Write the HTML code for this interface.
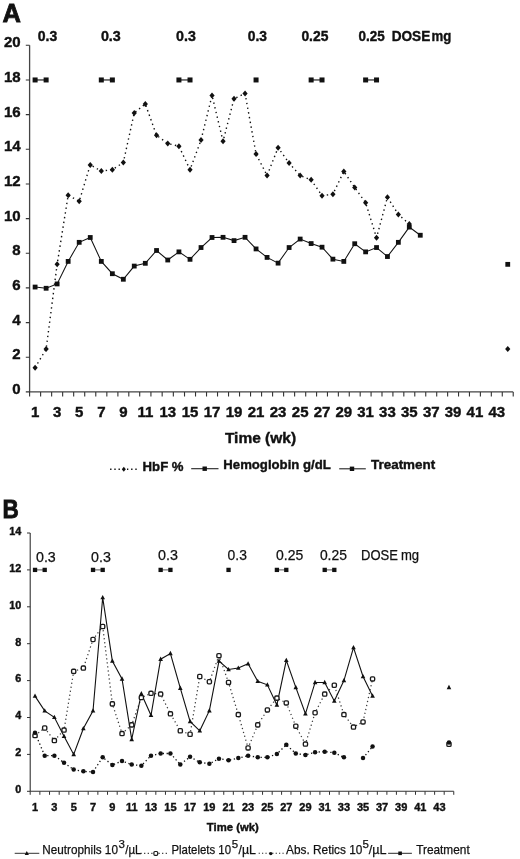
<!DOCTYPE html><html><head><meta charset="utf-8"><style>html,body{margin:0;padding:0;background:#fff;}svg{display:block;filter:blur(0.4px);}text{font-family:"Liberation Sans",sans-serif;}</style></head><body>
<svg width="520" height="859" viewBox="0 0 520 859">
<rect width="520" height="859" fill="#fff"/>
<text x="2.4" y="21.7" font-size="25.5" font-weight="bold" stroke="#111" stroke-width="0.8" fill="#111">A</text>
<path d="M29.6 45.3V391.9H513.22" fill="none" stroke="#444" stroke-width="1.3"/>
<text x="20.6" y="394" font-size="15" font-weight="bold" stroke="#111" stroke-width="0.4" text-anchor="end" fill="#111">0</text>
<text x="20.6" y="359.34" font-size="15" font-weight="bold" stroke="#111" stroke-width="0.4" text-anchor="end" fill="#111">2</text>
<text x="20.6" y="324.68" font-size="15" font-weight="bold" stroke="#111" stroke-width="0.4" text-anchor="end" fill="#111">4</text>
<text x="20.6" y="290.02" font-size="15" font-weight="bold" stroke="#111" stroke-width="0.4" text-anchor="end" fill="#111">6</text>
<text x="20.6" y="255.36" font-size="15" font-weight="bold" stroke="#111" stroke-width="0.4" text-anchor="end" fill="#111">8</text>
<text x="20.6" y="220.7" font-size="15" font-weight="bold" stroke="#111" stroke-width="0.4" text-anchor="end" fill="#111">10</text>
<text x="20.6" y="186.04" font-size="15" font-weight="bold" stroke="#111" stroke-width="0.4" text-anchor="end" fill="#111">12</text>
<text x="20.6" y="151.38" font-size="15" font-weight="bold" stroke="#111" stroke-width="0.4" text-anchor="end" fill="#111">14</text>
<text x="20.6" y="116.72" font-size="15" font-weight="bold" stroke="#111" stroke-width="0.4" text-anchor="end" fill="#111">16</text>
<text x="20.6" y="82.06" font-size="15" font-weight="bold" stroke="#111" stroke-width="0.4" text-anchor="end" fill="#111">18</text>
<text x="20.6" y="47.4" font-size="15" font-weight="bold" stroke="#111" stroke-width="0.4" text-anchor="end" fill="#111">20</text>
<path d="M25.8 391.9H29.6M25.8 357.24H29.6M25.8 322.58H29.6M25.8 287.92H29.6M25.8 253.26H29.6M25.8 218.6H29.6M25.8 183.94H29.6M25.8 149.28H29.6M25.8 114.62H29.6M25.8 79.96H29.6M25.8 45.3H29.6M29.6 391.9V396.4M40.62 391.9V396.4M51.64 391.9V396.4M62.65 391.9V396.4M73.67 391.9V396.4M84.72 391.9V396.4M95.78 391.9V396.4M106.84 391.9V396.4M117.89 391.9V396.4M128.8 391.9V396.4M139.7 391.9V396.4M150.93 391.9V396.4M162.16 391.9V396.4M173.34 391.9V396.4M184.52 391.9V396.4M195.53 391.9V396.4M206.53 391.9V396.4M217.53 391.9V396.4M228.54 391.9V396.4M239.54 391.9V396.4M250.55 391.9V396.4M261.57 391.9V396.4M272.59 391.9V396.4M283.6 391.9V396.4M294.62 391.9V396.4M305.7 391.9V396.4M316.58 391.9V396.4M327.46 391.9V396.4M338.37 391.9V396.4M349.27 391.9V396.4M360.18 391.9V396.4M371.08 391.9V396.4M381.99 391.9V396.4M392.91 391.9V396.4M403.82 391.9V396.4M414.78 391.9V396.4M425.75 391.9V396.4M436.71 391.9V396.4M447.63 391.9V396.4M458.55 391.9V396.4M469.46 391.9V396.4M480.38 391.9V396.4M491.33 391.9V396.4M502.27 391.9V396.4M513.22 391.9V396.4" stroke="#333" stroke-width="1.1" fill="none"/>
<text x="35.11" y="416.5" font-size="15" font-weight="bold" stroke="#111" stroke-width="0.4" text-anchor="middle" fill="#111">1</text>
<text x="57.14" y="416.5" font-size="15" font-weight="bold" stroke="#111" stroke-width="0.4" text-anchor="middle" fill="#111">3</text>
<text x="79.2" y="416.5" font-size="15" font-weight="bold" stroke="#111" stroke-width="0.4" text-anchor="middle" fill="#111">5</text>
<text x="101.31" y="416.5" font-size="15" font-weight="bold" stroke="#111" stroke-width="0.4" text-anchor="middle" fill="#111">7</text>
<text x="123.34" y="416.5" font-size="15" font-weight="bold" stroke="#111" stroke-width="0.4" text-anchor="middle" fill="#111">9</text>
<text x="145.31" y="416.5" font-size="15" font-weight="bold" stroke="#111" stroke-width="0.4" text-anchor="middle" fill="#111">11</text>
<text x="167.75" y="416.5" font-size="15" font-weight="bold" stroke="#111" stroke-width="0.4" text-anchor="middle" fill="#111">13</text>
<text x="190.02" y="416.5" font-size="15" font-weight="bold" stroke="#111" stroke-width="0.4" text-anchor="middle" fill="#111">15</text>
<text x="212.03" y="416.5" font-size="15" font-weight="bold" stroke="#111" stroke-width="0.4" text-anchor="middle" fill="#111">17</text>
<text x="234.04" y="416.5" font-size="15" font-weight="bold" stroke="#111" stroke-width="0.4" text-anchor="middle" fill="#111">19</text>
<text x="256.06" y="416.5" font-size="15" font-weight="bold" stroke="#111" stroke-width="0.4" text-anchor="middle" fill="#111">21</text>
<text x="278.09" y="416.5" font-size="15" font-weight="bold" stroke="#111" stroke-width="0.4" text-anchor="middle" fill="#111">23</text>
<text x="300.16" y="416.5" font-size="15" font-weight="bold" stroke="#111" stroke-width="0.4" text-anchor="middle" fill="#111">25</text>
<text x="322.02" y="416.5" font-size="15" font-weight="bold" stroke="#111" stroke-width="0.4" text-anchor="middle" fill="#111">27</text>
<text x="343.82" y="416.5" font-size="15" font-weight="bold" stroke="#111" stroke-width="0.4" text-anchor="middle" fill="#111">29</text>
<text x="365.63" y="416.5" font-size="15" font-weight="bold" stroke="#111" stroke-width="0.4" text-anchor="middle" fill="#111">31</text>
<text x="387.45" y="416.5" font-size="15" font-weight="bold" stroke="#111" stroke-width="0.4" text-anchor="middle" fill="#111">33</text>
<text x="409.3" y="416.5" font-size="15" font-weight="bold" stroke="#111" stroke-width="0.4" text-anchor="middle" fill="#111">35</text>
<text x="431.23" y="416.5" font-size="15" font-weight="bold" stroke="#111" stroke-width="0.4" text-anchor="middle" fill="#111">37</text>
<text x="453.09" y="416.5" font-size="15" font-weight="bold" stroke="#111" stroke-width="0.4" text-anchor="middle" fill="#111">39</text>
<text x="474.92" y="416.5" font-size="15" font-weight="bold" stroke="#111" stroke-width="0.4" text-anchor="middle" fill="#111">41</text>
<text x="496.8" y="416.5" font-size="15" font-weight="bold" stroke="#111" stroke-width="0.4" text-anchor="middle" fill="#111">43</text>
<text x="260.5" y="442.7" font-size="15.5" font-weight="bold" stroke="#111" stroke-width="0.4" text-anchor="middle" fill="#111">Time (wk)</text>
<text x="37.7" y="40.9" font-size="15" font-weight="bold" stroke="#111" stroke-width="0.4" textLength="19.5" lengthAdjust="spacingAndGlyphs" fill="#111">0.3</text>
<text x="100.9" y="40.9" font-size="15" font-weight="bold" stroke="#111" stroke-width="0.4" textLength="19.9" lengthAdjust="spacingAndGlyphs" fill="#111">0.3</text>
<text x="176.1" y="40.9" font-size="15" font-weight="bold" stroke="#111" stroke-width="0.4" textLength="19.8" lengthAdjust="spacingAndGlyphs" fill="#111">0.3</text>
<text x="247.7" y="40.9" font-size="15" font-weight="bold" stroke="#111" stroke-width="0.4" textLength="19.3" lengthAdjust="spacingAndGlyphs" fill="#111">0.3</text>
<text x="301.4" y="40.9" font-size="15" font-weight="bold" stroke="#111" stroke-width="0.4" textLength="27" lengthAdjust="spacingAndGlyphs" fill="#111">0.25</text>
<text x="358.6" y="40.9" font-size="15" font-weight="bold" stroke="#111" stroke-width="0.4" textLength="26.2" lengthAdjust="spacingAndGlyphs" fill="#111">0.25</text>
<text x="391.7" y="40.6" font-size="15" font-weight="bold" stroke="#111" stroke-width="0.4" textLength="38.6" lengthAdjust="spacingAndGlyphs" fill="#111">DOSE</text>
<text x="431.4" y="40.6" font-size="15" font-weight="bold" stroke="#111" stroke-width="0.4" textLength="19.8" lengthAdjust="spacingAndGlyphs" fill="#111">mg</text>
<path d="M35.11 367.64L46.13 349.09L57.14 264.35L68.16 195.2L79.2 201.27L90.25 164.88L101.31 171.12L112.36 169.73L123.34 162.45L134.25 112.89L145.31 104.05L156.55 135.24L167.75 143.56L178.93 146.16L190.02 169.73L201.03 140.1L212.03 95.38L223.04 141.31L234.04 98.68L245.05 93.48L256.06 153.96L267.08 175.53L278.09 147.63L289.11 163.06L300.16 175.53L311.14 179.87L322.02 195.64L332.91 194.25L343.82 171.38L354.72 187.49L365.63 202.74L376.54 237.75L387.45 197.2L398.36 214.53L409.3 224.06" fill="none" stroke="#111" stroke-width="1.4" stroke-dasharray="1.4 3.4"/>
<path d="M35.11 287.05L46.13 288.27L57.14 283.93L68.16 261.41L79.2 242.34L90.25 237.49L101.31 261.41L112.36 273.71L123.34 279.25L134.25 266.08L145.31 263.31L156.55 250.49L167.75 260.02L178.93 251.87L190.02 259.33L201.03 247.54L212.03 237.49L223.04 237.32L234.04 240.61L245.05 237.32L256.06 248.93L267.08 257.42L278.09 263.14L289.11 247.54L300.16 239.05L311.14 243.56L322.02 247.19L332.91 259.15L343.82 261.41L354.72 243.73L365.63 251.87L376.54 247.54L387.45 256.55L398.36 242.34L409.3 227.09L420.27 235.24" fill="none" stroke="#111" stroke-width="1.05"/>
<path d="M35.11 79.96H46.13" stroke="#111" stroke-width="1.1"/>
<path d="M101.31 79.96H112.36" stroke="#111" stroke-width="1.1"/>
<path d="M178.93 79.96H190.02" stroke="#111" stroke-width="1.1"/>
<path d="M311.14 79.96H322.02" stroke="#111" stroke-width="1.1"/>
<path d="M365.63 79.96H376.54" stroke="#111" stroke-width="1.1"/>
<rect x="32.61" y="77.46" width="5" height="5" fill="#111"/>
<rect x="43.63" y="77.46" width="5" height="5" fill="#111"/>
<rect x="98.81" y="77.46" width="5" height="5" fill="#111"/>
<rect x="109.86" y="77.46" width="5" height="5" fill="#111"/>
<rect x="176.43" y="77.46" width="5" height="5" fill="#111"/>
<rect x="187.52" y="77.46" width="5" height="5" fill="#111"/>
<rect x="253.56" y="77.46" width="5" height="5" fill="#111"/>
<rect x="308.64" y="77.46" width="5" height="5" fill="#111"/>
<rect x="319.52" y="77.46" width="5" height="5" fill="#111"/>
<rect x="363.13" y="77.46" width="5" height="5" fill="#111"/>
<rect x="374.04" y="77.46" width="5" height="5" fill="#111"/>
<rect x="32.71" y="284.65" width="4.8" height="4.8" fill="#111"/>
<rect x="43.73" y="285.87" width="4.8" height="4.8" fill="#111"/>
<rect x="54.74" y="281.53" width="4.8" height="4.8" fill="#111"/>
<rect x="65.76" y="259.01" width="4.8" height="4.8" fill="#111"/>
<rect x="76.8" y="239.94" width="4.8" height="4.8" fill="#111"/>
<rect x="87.85" y="235.09" width="4.8" height="4.8" fill="#111"/>
<rect x="98.91" y="259.01" width="4.8" height="4.8" fill="#111"/>
<rect x="109.96" y="271.31" width="4.8" height="4.8" fill="#111"/>
<rect x="120.94" y="276.86" width="4.8" height="4.8" fill="#111"/>
<rect x="131.85" y="263.68" width="4.8" height="4.8" fill="#111"/>
<rect x="142.91" y="260.91" width="4.8" height="4.8" fill="#111"/>
<rect x="154.15" y="248.09" width="4.8" height="4.8" fill="#111"/>
<rect x="165.35" y="257.62" width="4.8" height="4.8" fill="#111"/>
<rect x="176.53" y="249.47" width="4.8" height="4.8" fill="#111"/>
<rect x="187.62" y="256.93" width="4.8" height="4.8" fill="#111"/>
<rect x="198.63" y="245.14" width="4.8" height="4.8" fill="#111"/>
<rect x="209.63" y="235.09" width="4.8" height="4.8" fill="#111"/>
<rect x="220.64" y="234.92" width="4.8" height="4.8" fill="#111"/>
<rect x="231.64" y="238.21" width="4.8" height="4.8" fill="#111"/>
<rect x="242.65" y="234.92" width="4.8" height="4.8" fill="#111"/>
<rect x="253.66" y="246.53" width="4.8" height="4.8" fill="#111"/>
<rect x="264.68" y="255.02" width="4.8" height="4.8" fill="#111"/>
<rect x="275.69" y="260.74" width="4.8" height="4.8" fill="#111"/>
<rect x="286.71" y="245.14" width="4.8" height="4.8" fill="#111"/>
<rect x="297.76" y="236.65" width="4.8" height="4.8" fill="#111"/>
<rect x="308.74" y="241.16" width="4.8" height="4.8" fill="#111"/>
<rect x="319.62" y="244.79" width="4.8" height="4.8" fill="#111"/>
<rect x="330.51" y="256.75" width="4.8" height="4.8" fill="#111"/>
<rect x="341.42" y="259.01" width="4.8" height="4.8" fill="#111"/>
<rect x="352.32" y="241.33" width="4.8" height="4.8" fill="#111"/>
<rect x="363.23" y="249.47" width="4.8" height="4.8" fill="#111"/>
<rect x="374.14" y="245.14" width="4.8" height="4.8" fill="#111"/>
<rect x="385.05" y="254.15" width="4.8" height="4.8" fill="#111"/>
<rect x="395.96" y="239.94" width="4.8" height="4.8" fill="#111"/>
<rect x="406.9" y="224.69" width="4.8" height="4.8" fill="#111"/>
<rect x="417.87" y="232.84" width="4.8" height="4.8" fill="#111"/>
<rect x="505.35" y="261.95" width="4.8" height="4.8" fill="#111"/>
<path d="M35.11 364.64L37.71 367.64L35.11 370.64L32.51 367.64Z" fill="#111"/>
<path d="M46.13 346.09L48.73 349.09L46.13 352.09L43.53 349.09Z" fill="#111"/>
<path d="M57.14 261.35L59.74 264.35L57.14 267.35L54.54 264.35Z" fill="#111"/>
<path d="M68.16 192.2L70.76 195.2L68.16 198.2L65.56 195.2Z" fill="#111"/>
<path d="M79.2 198.27L81.8 201.27L79.2 204.27L76.6 201.27Z" fill="#111"/>
<path d="M90.25 161.88L92.85 164.88L90.25 167.88L87.65 164.88Z" fill="#111"/>
<path d="M101.31 168.12L103.91 171.12L101.31 174.12L98.71 171.12Z" fill="#111"/>
<path d="M112.36 166.73L114.96 169.73L112.36 172.73L109.76 169.73Z" fill="#111"/>
<path d="M123.34 159.45L125.94 162.45L123.34 165.45L120.74 162.45Z" fill="#111"/>
<path d="M134.25 109.89L136.85 112.89L134.25 115.89L131.65 112.89Z" fill="#111"/>
<path d="M145.31 101.05L147.91 104.05L145.31 107.05L142.72 104.05Z" fill="#111"/>
<path d="M156.55 132.24L159.15 135.24L156.55 138.24L153.95 135.24Z" fill="#111"/>
<path d="M167.75 140.56L170.35 143.56L167.75 146.56L165.15 143.56Z" fill="#111"/>
<path d="M178.93 143.16L181.53 146.16L178.93 149.16L176.33 146.16Z" fill="#111"/>
<path d="M190.02 166.73L192.62 169.73L190.02 172.73L187.42 169.73Z" fill="#111"/>
<path d="M201.03 137.1L203.63 140.1L201.03 143.1L198.43 140.1Z" fill="#111"/>
<path d="M212.03 92.38L214.63 95.38L212.03 98.38L209.43 95.38Z" fill="#111"/>
<path d="M223.04 138.31L225.64 141.31L223.04 144.31L220.44 141.31Z" fill="#111"/>
<path d="M234.04 95.68L236.64 98.68L234.04 101.68L231.44 98.68Z" fill="#111"/>
<path d="M245.05 90.48L247.65 93.48L245.05 96.48L242.45 93.48Z" fill="#111"/>
<path d="M256.06 150.96L258.66 153.96L256.06 156.96L253.46 153.96Z" fill="#111"/>
<path d="M267.08 172.53L269.68 175.53L267.08 178.53L264.48 175.53Z" fill="#111"/>
<path d="M278.09 144.63L280.69 147.63L278.09 150.63L275.49 147.63Z" fill="#111"/>
<path d="M289.11 160.06L291.71 163.06L289.11 166.06L286.51 163.06Z" fill="#111"/>
<path d="M300.16 172.53L302.76 175.53L300.16 178.53L297.56 175.53Z" fill="#111"/>
<path d="M311.14 176.87L313.74 179.87L311.14 182.87L308.54 179.87Z" fill="#111"/>
<path d="M322.02 192.64L324.62 195.64L322.02 198.64L319.42 195.64Z" fill="#111"/>
<path d="M332.91 191.25L335.51 194.25L332.91 197.25L330.31 194.25Z" fill="#111"/>
<path d="M343.82 168.38L346.42 171.38L343.82 174.38L341.22 171.38Z" fill="#111"/>
<path d="M354.72 184.49L357.32 187.49L354.72 190.49L352.12 187.49Z" fill="#111"/>
<path d="M365.63 199.74L368.23 202.74L365.63 205.74L363.03 202.74Z" fill="#111"/>
<path d="M376.54 234.75L379.14 237.75L376.54 240.75L373.94 237.75Z" fill="#111"/>
<path d="M387.45 194.2L390.05 197.2L387.45 200.2L384.85 197.2Z" fill="#111"/>
<path d="M398.36 211.53L400.96 214.53L398.36 217.53L395.76 214.53Z" fill="#111"/>
<path d="M409.3 221.06L411.9 224.06L409.3 227.06L406.7 224.06Z" fill="#111"/>
<path d="M507.75 345.92L510.35 348.92L507.75 351.92L505.15 348.92Z" fill="#111"/>
<path d="M110.1 469.3H137.5" stroke="#111" stroke-width="1.4" stroke-dasharray="1.4 2.8"/>
<rect x="121" y="466" width="6" height="6.5" fill="#fff"/>
<path d="M123.8 466.7L125.8 469.2L123.8 471.7L121.8 469.2Z" fill="#111"/>
<text x="142.6" y="470.6" font-size="13.3" font-weight="bold" stroke="#111" stroke-width="0.4" textLength="41" lengthAdjust="spacingAndGlyphs" fill="#111">HbF %</text>
<path d="M191.2 468.7H218.5" stroke="#222" stroke-width="1.1"/>
<rect x="202.5" y="466.5" width="4.4" height="4.4" fill="#111"/>
<text x="223.3" y="469.4" font-size="13.3" font-weight="bold" stroke="#111" stroke-width="0.4" textLength="107.5" lengthAdjust="spacingAndGlyphs" fill="#111">Hemoglobin g/dL</text>
<path d="M339.2 468.8H365.8" stroke="#222" stroke-width="1.1"/>
<rect x="349.8" y="466.6" width="4.4" height="4.4" fill="#111"/>
<text x="371" y="469.4" font-size="13.3" font-weight="bold" stroke="#111" stroke-width="0.4" textLength="64.2" lengthAdjust="spacingAndGlyphs" fill="#111">Treatment</text>
<text x="2.4" y="517.8" font-size="25.5" font-weight="bold" stroke="#111" stroke-width="0.8" textLength="16.3" lengthAdjust="spacingAndGlyphs" fill="#111">B</text>
<path d="M30.2 533V791.3H453.76" fill="none" stroke="#333" stroke-width="1.1"/>
<text x="21.3" y="793.1" font-size="10.8" font-weight="bold" stroke="#111" stroke-width="0.4" text-anchor="end" fill="#111">0</text>
<text x="21.3" y="756.2" font-size="10.8" font-weight="bold" stroke="#111" stroke-width="0.4" text-anchor="end" fill="#111">2</text>
<text x="21.3" y="719.3" font-size="10.8" font-weight="bold" stroke="#111" stroke-width="0.4" text-anchor="end" fill="#111">4</text>
<text x="21.3" y="682.4" font-size="10.8" font-weight="bold" stroke="#111" stroke-width="0.4" text-anchor="end" fill="#111">6</text>
<text x="21.3" y="645.5" font-size="10.8" font-weight="bold" stroke="#111" stroke-width="0.4" text-anchor="end" fill="#111">8</text>
<text x="21.3" y="608.6" font-size="10.8" font-weight="bold" stroke="#111" stroke-width="0.4" text-anchor="end" fill="#111">10</text>
<text x="21.3" y="571.7" font-size="10.8" font-weight="bold" stroke="#111" stroke-width="0.4" text-anchor="end" fill="#111">12</text>
<text x="21.3" y="534.8" font-size="10.8" font-weight="bold" stroke="#111" stroke-width="0.4" text-anchor="end" fill="#111">14</text>
<path d="M27 791.3H30.2M27 754.4H30.2M27 717.5H30.2M27 680.6H30.2M27 643.7H30.2M27 606.8H30.2M27 569.9H30.2M27 533H30.2M30.2 791.3V794.8M39.87 791.3V794.8M49.53 791.3V794.8M59.2 791.3V794.8M68.86 791.3V794.8M78.53 791.3V794.8M88.19 791.3V794.8M97.86 791.3V794.8M107.52 791.3V794.8M117.19 791.3V794.8M126.87 791.3V794.8M136.54 791.3V794.8M146.18 791.3V794.8M155.82 791.3V794.8M165.46 791.3V794.8M175.4 791.3V794.8M185.19 791.3V794.8M194.98 791.3V794.8M204.57 791.3V794.8M214.16 791.3V794.8M223.75 791.3V794.8M233.34 791.3V794.8M243.28 791.3V794.8M252.92 791.3V794.8M262.56 791.3V794.8M272.2 791.3V794.8M281.59 791.3V794.8M290.98 791.3V794.8M300.62 791.3V794.8M310.26 791.3V794.8M319.9 791.3V794.8M329.51 791.3V794.8M339.11 791.3V794.8M348.72 791.3V794.8M358.26 791.3V794.8M367.8 791.3V794.8M377.34 791.3V794.8M386.88 791.3V794.8M396.42 791.3V794.8M405.96 791.3V794.8M415.5 791.3V794.8M425.04 791.3V794.8M434.61 791.3V794.8M444.19 791.3V794.8M453.76 791.3V794.8" stroke="#333" stroke-width="1" fill="none"/>
<text x="35.03" y="810.6" font-size="11" font-weight="bold" stroke="#111" stroke-width="0.4" text-anchor="middle" fill="#111">1</text>
<text x="54.36" y="810.6" font-size="11" font-weight="bold" stroke="#111" stroke-width="0.4" text-anchor="middle" fill="#111">3</text>
<text x="73.69" y="810.6" font-size="11" font-weight="bold" stroke="#111" stroke-width="0.4" text-anchor="middle" fill="#111">5</text>
<text x="93.02" y="810.6" font-size="11" font-weight="bold" stroke="#111" stroke-width="0.4" text-anchor="middle" fill="#111">7</text>
<text x="112.36" y="810.6" font-size="11" font-weight="bold" stroke="#111" stroke-width="0.4" text-anchor="middle" fill="#111">9</text>
<text x="131.7" y="810.6" font-size="11" font-weight="bold" stroke="#111" stroke-width="0.4" text-anchor="middle" fill="#111">11</text>
<text x="151" y="810.6" font-size="11" font-weight="bold" stroke="#111" stroke-width="0.4" text-anchor="middle" fill="#111">13</text>
<text x="170.43" y="810.6" font-size="11" font-weight="bold" stroke="#111" stroke-width="0.4" text-anchor="middle" fill="#111">15</text>
<text x="190.08" y="810.6" font-size="11" font-weight="bold" stroke="#111" stroke-width="0.4" text-anchor="middle" fill="#111">17</text>
<text x="209.37" y="810.6" font-size="11" font-weight="bold" stroke="#111" stroke-width="0.4" text-anchor="middle" fill="#111">19</text>
<text x="228.54" y="810.6" font-size="11" font-weight="bold" stroke="#111" stroke-width="0.4" text-anchor="middle" fill="#111">21</text>
<text x="248.1" y="810.6" font-size="11" font-weight="bold" stroke="#111" stroke-width="0.4" text-anchor="middle" fill="#111">23</text>
<text x="267.38" y="810.6" font-size="11" font-weight="bold" stroke="#111" stroke-width="0.4" text-anchor="middle" fill="#111">25</text>
<text x="286.29" y="810.6" font-size="11" font-weight="bold" stroke="#111" stroke-width="0.4" text-anchor="middle" fill="#111">27</text>
<text x="305.44" y="810.6" font-size="11" font-weight="bold" stroke="#111" stroke-width="0.4" text-anchor="middle" fill="#111">29</text>
<text x="324.7" y="810.6" font-size="11" font-weight="bold" stroke="#111" stroke-width="0.4" text-anchor="middle" fill="#111">31</text>
<text x="343.92" y="810.6" font-size="11" font-weight="bold" stroke="#111" stroke-width="0.4" text-anchor="middle" fill="#111">33</text>
<text x="363.03" y="810.6" font-size="11" font-weight="bold" stroke="#111" stroke-width="0.4" text-anchor="middle" fill="#111">35</text>
<text x="382.11" y="810.6" font-size="11" font-weight="bold" stroke="#111" stroke-width="0.4" text-anchor="middle" fill="#111">37</text>
<text x="401.19" y="810.6" font-size="11" font-weight="bold" stroke="#111" stroke-width="0.4" text-anchor="middle" fill="#111">39</text>
<text x="420.27" y="810.6" font-size="11" font-weight="bold" stroke="#111" stroke-width="0.4" text-anchor="middle" fill="#111">41</text>
<text x="439.4" y="810.6" font-size="11" font-weight="bold" stroke="#111" stroke-width="0.4" text-anchor="middle" fill="#111">43</text>
<text x="232.8" y="830.8" font-size="11.3" font-weight="bold" stroke="#111" stroke-width="0.4" text-anchor="middle" fill="#111">Time (wk)</text>
<text x="36" y="562.3" font-size="14" stroke="#111" stroke-width="0.25" textLength="19.8" lengthAdjust="spacingAndGlyphs" fill="#111">0.3</text>
<text x="91.1" y="562.2" font-size="14" stroke="#111" stroke-width="0.25" textLength="19.8" lengthAdjust="spacingAndGlyphs" fill="#111">0.3</text>
<text x="158" y="560.3" font-size="14" stroke="#111" stroke-width="0.25" textLength="19.9" lengthAdjust="spacingAndGlyphs" fill="#111">0.3</text>
<text x="227.6" y="560.1" font-size="14" stroke="#111" stroke-width="0.25" textLength="19.3" lengthAdjust="spacingAndGlyphs" fill="#111">0.3</text>
<text x="276" y="560.1" font-size="14" stroke="#111" stroke-width="0.25" textLength="27.2" lengthAdjust="spacingAndGlyphs" fill="#111">0.25</text>
<text x="319.9" y="560.1" font-size="14" stroke="#111" stroke-width="0.25" textLength="27" lengthAdjust="spacingAndGlyphs" fill="#111">0.25</text>
<text x="361" y="559.8" font-size="14" stroke="#111" stroke-width="0.25" textLength="36.9" lengthAdjust="spacingAndGlyphs" fill="#111">DOSE</text>
<text x="400.9" y="559.8" font-size="14" stroke="#111" stroke-width="0.25" textLength="18.2" lengthAdjust="spacingAndGlyphs" fill="#111">mg</text>
<path d="M35.03 735.58L44.7 728.02L54.36 740.56L64.03 730.05L73.69 671.38L83.36 668.05L93.02 639.46L102.69 626.54L112.36 703.85L122.03 733.55L131.7 724.88L141.36 697.57L151 693.33L160.64 694.07L170.43 713.81L180.3 730.78L190.08 734.29L199.77 676.54L209.37 681.71L218.96 655.69L228.54 682.44L238.31 714.55L248.1 747.94L257.74 724.88L267.38 709.94L276.89 698.13L286.29 702.92L295.8 726.17L305.44 744.07L315.08 712.7L324.7 694.07L334.31 685.21L343.92 714.55L353.49 727.09L363.03 721.93L372.57 678.94" fill="none" stroke="#3a3a3a" stroke-width="1.25" stroke-dasharray="1.25 2.8"/>
<path d="M35.03 732.81L44.7 755.69L54.36 755.69L64.03 762.7L73.69 769.53L83.36 771.37L93.02 771.93L102.69 757.35L112.36 764.92L122.03 761.04L131.7 764.55L141.36 765.65L151 755.69L160.64 753.48L170.43 753.48L180.3 764.55L190.08 756.8L199.77 762.33L209.37 763.81L218.96 758.64L228.54 760.3L238.31 758.09L248.1 755.69L257.74 757.35L267.38 757.35L276.89 754.03L286.29 744.81L295.8 753.48L305.44 754.95L315.08 752.19L324.7 751.63L334.31 752.74L343.92 757.35M363.03 758.09L372.57 746.47" fill="none" stroke="#111" stroke-width="1.3" stroke-dasharray="1.3 2.6"/>
<path d="M35.03 696.1L44.7 710.86L54.36 717.32L64.03 736.32L73.69 754.4L83.36 728.57L93.02 710.86L102.69 597.57L112.36 661.04L122.03 678.94L131.7 739.46L141.36 693.7L151 715.29L160.64 659.2L170.43 653.48L180.3 688.16L190.08 721.37L199.77 730.78L209.37 710.67L218.96 661.04L228.54 669.53L238.31 668.05L248.1 663.81L257.74 681.34L267.38 684.84L276.89 704.95L286.29 660.3L295.8 687.43L305.44 713.81L315.08 682.44L324.7 682.44L334.31 701.08L343.92 680.6L353.49 647.57L363.03 676.54L372.57 695.91" fill="none" stroke="#111" stroke-width="1.1"/>
<path d="M35.03 569.9H44.7" stroke="#555" stroke-width="1"/>
<path d="M93.02 569.9H102.69" stroke="#555" stroke-width="1"/>
<path d="M160.64 569.9H170.43" stroke="#555" stroke-width="1"/>
<path d="M276.89 569.9H286.29" stroke="#555" stroke-width="1"/>
<path d="M324.7 569.9H334.31" stroke="#555" stroke-width="1"/>
<rect x="32.88" y="567.75" width="4.3" height="4.3" fill="#111"/>
<rect x="42.55" y="567.75" width="4.3" height="4.3" fill="#111"/>
<rect x="90.87" y="567.75" width="4.3" height="4.3" fill="#111"/>
<rect x="100.54" y="567.75" width="4.3" height="4.3" fill="#111"/>
<rect x="158.49" y="567.75" width="4.3" height="4.3" fill="#111"/>
<rect x="168.28" y="567.75" width="4.3" height="4.3" fill="#111"/>
<rect x="226.39" y="567.75" width="4.3" height="4.3" fill="#111"/>
<rect x="274.75" y="567.75" width="4.3" height="4.3" fill="#111"/>
<rect x="284.14" y="567.75" width="4.3" height="4.3" fill="#111"/>
<rect x="322.55" y="567.75" width="4.3" height="4.3" fill="#111"/>
<rect x="332.16" y="567.75" width="4.3" height="4.3" fill="#111"/>
<rect x="32.93" y="733.48" width="4.2" height="4.2" rx="1.2" fill="#fff" stroke="#1a1a1a" stroke-width="1.35"/>
<rect x="42.6" y="725.92" width="4.2" height="4.2" rx="1.2" fill="#fff" stroke="#1a1a1a" stroke-width="1.35"/>
<rect x="52.26" y="738.46" width="4.2" height="4.2" rx="1.2" fill="#fff" stroke="#1a1a1a" stroke-width="1.35"/>
<rect x="61.93" y="727.95" width="4.2" height="4.2" rx="1.2" fill="#fff" stroke="#1a1a1a" stroke-width="1.35"/>
<rect x="71.59" y="669.27" width="4.2" height="4.2" rx="1.2" fill="#fff" stroke="#1a1a1a" stroke-width="1.35"/>
<rect x="81.26" y="665.95" width="4.2" height="4.2" rx="1.2" fill="#fff" stroke="#1a1a1a" stroke-width="1.35"/>
<rect x="90.92" y="637.36" width="4.2" height="4.2" rx="1.2" fill="#fff" stroke="#1a1a1a" stroke-width="1.35"/>
<rect x="100.59" y="624.44" width="4.2" height="4.2" rx="1.2" fill="#fff" stroke="#1a1a1a" stroke-width="1.35"/>
<rect x="110.26" y="701.75" width="4.2" height="4.2" rx="1.2" fill="#fff" stroke="#1a1a1a" stroke-width="1.35"/>
<rect x="119.93" y="731.45" width="4.2" height="4.2" rx="1.2" fill="#fff" stroke="#1a1a1a" stroke-width="1.35"/>
<rect x="129.6" y="722.78" width="4.2" height="4.2" rx="1.2" fill="#fff" stroke="#1a1a1a" stroke-width="1.35"/>
<rect x="139.26" y="695.47" width="4.2" height="4.2" rx="1.2" fill="#fff" stroke="#1a1a1a" stroke-width="1.35"/>
<rect x="148.9" y="691.23" width="4.2" height="4.2" rx="1.2" fill="#fff" stroke="#1a1a1a" stroke-width="1.35"/>
<rect x="158.54" y="691.97" width="4.2" height="4.2" rx="1.2" fill="#fff" stroke="#1a1a1a" stroke-width="1.35"/>
<rect x="168.33" y="711.71" width="4.2" height="4.2" rx="1.2" fill="#fff" stroke="#1a1a1a" stroke-width="1.35"/>
<rect x="178.2" y="728.68" width="4.2" height="4.2" rx="1.2" fill="#fff" stroke="#1a1a1a" stroke-width="1.35"/>
<rect x="187.98" y="732.19" width="4.2" height="4.2" rx="1.2" fill="#fff" stroke="#1a1a1a" stroke-width="1.35"/>
<rect x="197.67" y="674.44" width="4.2" height="4.2" rx="1.2" fill="#fff" stroke="#1a1a1a" stroke-width="1.35"/>
<rect x="207.27" y="679.61" width="4.2" height="4.2" rx="1.2" fill="#fff" stroke="#1a1a1a" stroke-width="1.35"/>
<rect x="216.86" y="653.59" width="4.2" height="4.2" rx="1.2" fill="#fff" stroke="#1a1a1a" stroke-width="1.35"/>
<rect x="226.44" y="680.34" width="4.2" height="4.2" rx="1.2" fill="#fff" stroke="#1a1a1a" stroke-width="1.35"/>
<rect x="236.21" y="712.45" width="4.2" height="4.2" rx="1.2" fill="#fff" stroke="#1a1a1a" stroke-width="1.35"/>
<rect x="246" y="745.84" width="4.2" height="4.2" rx="1.2" fill="#fff" stroke="#1a1a1a" stroke-width="1.35"/>
<rect x="255.64" y="722.78" width="4.2" height="4.2" rx="1.2" fill="#fff" stroke="#1a1a1a" stroke-width="1.35"/>
<rect x="265.28" y="707.84" width="4.2" height="4.2" rx="1.2" fill="#fff" stroke="#1a1a1a" stroke-width="1.35"/>
<rect x="274.79" y="696.03" width="4.2" height="4.2" rx="1.2" fill="#fff" stroke="#1a1a1a" stroke-width="1.35"/>
<rect x="284.19" y="700.82" width="4.2" height="4.2" rx="1.2" fill="#fff" stroke="#1a1a1a" stroke-width="1.35"/>
<rect x="293.7" y="724.07" width="4.2" height="4.2" rx="1.2" fill="#fff" stroke="#1a1a1a" stroke-width="1.35"/>
<rect x="303.34" y="741.97" width="4.2" height="4.2" rx="1.2" fill="#fff" stroke="#1a1a1a" stroke-width="1.35"/>
<rect x="312.98" y="710.6" width="4.2" height="4.2" rx="1.2" fill="#fff" stroke="#1a1a1a" stroke-width="1.35"/>
<rect x="322.6" y="691.97" width="4.2" height="4.2" rx="1.2" fill="#fff" stroke="#1a1a1a" stroke-width="1.35"/>
<rect x="332.21" y="683.11" width="4.2" height="4.2" rx="1.2" fill="#fff" stroke="#1a1a1a" stroke-width="1.35"/>
<rect x="341.82" y="712.45" width="4.2" height="4.2" rx="1.2" fill="#fff" stroke="#1a1a1a" stroke-width="1.35"/>
<rect x="351.39" y="724.99" width="4.2" height="4.2" rx="1.2" fill="#fff" stroke="#1a1a1a" stroke-width="1.35"/>
<rect x="360.93" y="719.83" width="4.2" height="4.2" rx="1.2" fill="#fff" stroke="#1a1a1a" stroke-width="1.35"/>
<rect x="370.47" y="676.84" width="4.2" height="4.2" rx="1.2" fill="#fff" stroke="#1a1a1a" stroke-width="1.35"/>
<rect x="446.87" y="742.15" width="4.2" height="4.2" rx="1.2" fill="#fff" stroke="#1a1a1a" stroke-width="1.35"/>
<circle cx="35.03" cy="732.81" r="2.25" fill="#111"/>
<circle cx="44.7" cy="755.69" r="2.25" fill="#111"/>
<circle cx="54.36" cy="755.69" r="2.25" fill="#111"/>
<circle cx="64.03" cy="762.7" r="2.25" fill="#111"/>
<circle cx="73.69" cy="769.53" r="2.25" fill="#111"/>
<circle cx="83.36" cy="771.37" r="2.25" fill="#111"/>
<circle cx="93.02" cy="771.93" r="2.25" fill="#111"/>
<circle cx="102.69" cy="757.35" r="2.25" fill="#111"/>
<circle cx="112.36" cy="764.92" r="2.25" fill="#111"/>
<circle cx="122.03" cy="761.04" r="2.25" fill="#111"/>
<circle cx="131.7" cy="764.55" r="2.25" fill="#111"/>
<circle cx="141.36" cy="765.65" r="2.25" fill="#111"/>
<circle cx="151" cy="755.69" r="2.25" fill="#111"/>
<circle cx="160.64" cy="753.48" r="2.25" fill="#111"/>
<circle cx="170.43" cy="753.48" r="2.25" fill="#111"/>
<circle cx="180.3" cy="764.55" r="2.25" fill="#111"/>
<circle cx="190.08" cy="756.8" r="2.25" fill="#111"/>
<circle cx="199.77" cy="762.33" r="2.25" fill="#111"/>
<circle cx="209.37" cy="763.81" r="2.25" fill="#111"/>
<circle cx="218.96" cy="758.64" r="2.25" fill="#111"/>
<circle cx="228.54" cy="760.3" r="2.25" fill="#111"/>
<circle cx="238.31" cy="758.09" r="2.25" fill="#111"/>
<circle cx="248.1" cy="755.69" r="2.25" fill="#111"/>
<circle cx="257.74" cy="757.35" r="2.25" fill="#111"/>
<circle cx="267.38" cy="757.35" r="2.25" fill="#111"/>
<circle cx="276.89" cy="754.03" r="2.25" fill="#111"/>
<circle cx="286.29" cy="744.81" r="2.25" fill="#111"/>
<circle cx="295.8" cy="753.48" r="2.25" fill="#111"/>
<circle cx="305.44" cy="754.95" r="2.25" fill="#111"/>
<circle cx="315.08" cy="752.19" r="2.25" fill="#111"/>
<circle cx="324.7" cy="751.63" r="2.25" fill="#111"/>
<circle cx="334.31" cy="752.74" r="2.25" fill="#111"/>
<circle cx="343.92" cy="757.35" r="2.25" fill="#111"/>
<circle cx="363.03" cy="758.09" r="2.25" fill="#111"/>
<circle cx="372.57" cy="746.47" r="2.25" fill="#111"/>
<circle cx="448.97" cy="742.41" r="2.25" fill="#111"/>
<path d="M35.03 693.46L37.33 697.86L32.73 697.86Z" fill="#111"/>
<path d="M44.7 708.22L47 712.62L42.4 712.62Z" fill="#111"/>
<path d="M54.36 714.68L56.66 719.08L52.06 719.08Z" fill="#111"/>
<path d="M64.03 733.68L66.33 738.08L61.73 738.08Z" fill="#111"/>
<path d="M73.69 751.76L75.99 756.16L71.39 756.16Z" fill="#111"/>
<path d="M83.36 725.93L85.66 730.33L81.06 730.33Z" fill="#111"/>
<path d="M93.02 708.22L95.32 712.62L90.72 712.62Z" fill="#111"/>
<path d="M102.69 594.93L104.99 599.33L100.39 599.33Z" fill="#111"/>
<path d="M112.36 658.4L114.66 662.8L110.06 662.8Z" fill="#111"/>
<path d="M122.03 676.3L124.33 680.7L119.73 680.7Z" fill="#111"/>
<path d="M131.7 736.82L134 741.22L129.4 741.22Z" fill="#111"/>
<path d="M141.36 691.06L143.66 695.46L139.06 695.46Z" fill="#111"/>
<path d="M151 712.65L153.3 717.05L148.7 717.05Z" fill="#111"/>
<path d="M160.64 656.56L162.94 660.96L158.34 660.96Z" fill="#111"/>
<path d="M170.43 650.84L172.73 655.24L168.13 655.24Z" fill="#111"/>
<path d="M180.3 685.52L182.6 689.92L178 689.92Z" fill="#111"/>
<path d="M190.08 718.73L192.38 723.13L187.78 723.13Z" fill="#111"/>
<path d="M199.77 728.14L202.07 732.54L197.47 732.54Z" fill="#111"/>
<path d="M209.37 708.03L211.67 712.43L207.06 712.43Z" fill="#111"/>
<path d="M218.96 658.4L221.26 662.8L216.66 662.8Z" fill="#111"/>
<path d="M228.54 666.89L230.84 671.29L226.24 671.29Z" fill="#111"/>
<path d="M238.31 665.41L240.61 669.81L236.01 669.81Z" fill="#111"/>
<path d="M248.1 661.17L250.4 665.57L245.8 665.57Z" fill="#111"/>
<path d="M257.74 678.7L260.04 683.1L255.44 683.1Z" fill="#111"/>
<path d="M267.38 682.2L269.68 686.6L265.08 686.6Z" fill="#111"/>
<path d="M276.89 702.31L279.19 706.71L274.59 706.71Z" fill="#111"/>
<path d="M286.29 657.66L288.59 662.06L283.99 662.06Z" fill="#111"/>
<path d="M295.8 684.79L298.1 689.19L293.5 689.19Z" fill="#111"/>
<path d="M305.44 711.17L307.74 715.57L303.14 715.57Z" fill="#111"/>
<path d="M315.08 679.8L317.38 684.2L312.78 684.2Z" fill="#111"/>
<path d="M324.7 679.8L327 684.2L322.4 684.2Z" fill="#111"/>
<path d="M334.31 698.44L336.61 702.84L332.01 702.84Z" fill="#111"/>
<path d="M343.92 677.96L346.22 682.36L341.62 682.36Z" fill="#111"/>
<path d="M353.49 644.93L355.79 649.33L351.19 649.33Z" fill="#111"/>
<path d="M363.03 673.9L365.33 678.3L360.73 678.3Z" fill="#111"/>
<path d="M372.57 693.27L374.87 697.67L370.27 697.67Z" fill="#111"/>
<path d="M448.97 684.79L451.27 689.19L446.67 689.19Z" fill="#111"/>
<path d="M14.7 853.3H39.3" stroke="#333" stroke-width="1"/>
<path d="M26.8 850.9L28.9 854.9L24.7 854.9Z" fill="#111"/>
<text x="42.3" y="854.4" font-size="13" stroke="#111" stroke-width="0.25" textLength="75.6" lengthAdjust="spacingAndGlyphs" fill="#111">Neutrophils 10</text>
<text x="118.6" y="847.8" font-size="11.5" stroke="#111" stroke-width="0.25" fill="#111">3</text>
<text x="125.2" y="854.4" font-size="13" stroke="#111" stroke-width="0.25" textLength="16.2" lengthAdjust="spacingAndGlyphs" fill="#111">/µL</text>
<path d="M140.5 853.3H168" stroke="#333" stroke-width="1.2" stroke-dasharray="1.2 2.4"/>
<rect x="153.9" y="851.5" width="3.8" height="3.8" rx="1.1" fill="#fff" stroke="#1a1a1a" stroke-width="1.2"/>
<text x="171.5" y="854.4" font-size="13" stroke="#111" stroke-width="0.25" textLength="59.5" lengthAdjust="spacingAndGlyphs" fill="#111">Platelets 10</text>
<text x="231.7" y="847.8" font-size="11.5" stroke="#111" stroke-width="0.25" fill="#111">5</text>
<text x="238.5" y="854.4" font-size="13" stroke="#111" stroke-width="0.25" textLength="17.5" lengthAdjust="spacingAndGlyphs" fill="#111">/µL</text>
<path d="M258.7 853.3H283.7" stroke="#111" stroke-width="1.1" stroke-dasharray="1.1 2.3"/>
<circle cx="270.8" cy="853.6" r="1.7" fill="#111"/>
<text x="286.1" y="854.4" font-size="13" stroke="#111" stroke-width="0.25" textLength="76.3" lengthAdjust="spacingAndGlyphs" fill="#111">Abs. Retics 10</text>
<text x="362.6" y="847.8" font-size="11.5" stroke="#111" stroke-width="0.25" fill="#111">5</text>
<text x="368.8" y="854.4" font-size="13" stroke="#111" stroke-width="0.25" textLength="17.8" lengthAdjust="spacingAndGlyphs" fill="#111">/µL</text>
<path d="M388.1 853.3H411.9" stroke="#111" stroke-width="0.9"/>
<rect x="398.3" y="851.5" width="3.6" height="3.6" fill="#111"/>
<text x="416.2" y="854.4" font-size="13" stroke="#111" stroke-width="0.25" textLength="53.5" lengthAdjust="spacingAndGlyphs" fill="#111">Treatment</text>
</svg></body></html>
